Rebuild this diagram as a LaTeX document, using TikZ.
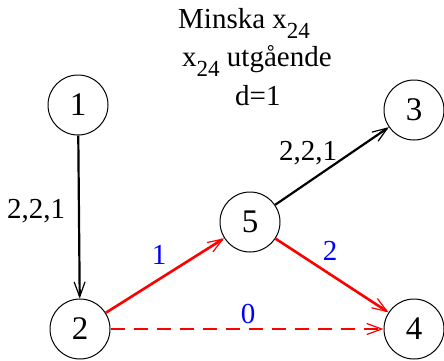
\documentclass[tikz,border=0pt]{standalone}
\usepackage{fontspec}
\setmainfont{Liberation Serif}
\usetikzlibrary{arrows.meta}
\definecolor{rod}{HTML}{FF0000}
\definecolor{bla}{HTML}{0000FF}
\newcommand{\nedsatt}[1]{\raisebox{-10pt}{\fontsize{23}{23}\selectfont #1}}
\tikzset{
  every picture/.style={x=1pt, y=-1pt},
  nod/.style={draw, circle, line width=1pt, minimum size=60pt, inner sep=0pt,
              font=\fontsize{33}{33}\selectfont},
  etikett/.style={anchor=base, inner sep=0pt, font=\fontsize{29}{29}\selectfont},
  rubrik/.style={anchor=base west, inner sep=0pt, font=\fontsize{29}{29}\selectfont},
  pilspets/.style={-{Straight Barb[length=15pt, width=11pt, line width=1.2pt]}},
  pil/.style={pilspets, line width=2.2pt},
  pilr/.style={pilspets, line width=2.6pt, draw=rod},
  pild/.style={pilspets, line width=1.4pt, draw=rod, dash pattern=on 14pt off 9pt},
}
\begin{document}
\begin{tikzpicture}
  \useasboundingbox (0,0) rectangle (444,360);
  \node[nod] (n1) at (78,105) {1};
  \node[nod] (n2) at (80,329) {2};
  \node[nod] (n3) at (414,110) {3};
  \node[nod] (n4) at (414,329) {4};
  \node[nod] (n5) at (250,222) {5};
  \draw[pil] (n1) -- (n2);
  \draw[pil] (n5) -- (n3);
  \draw[pilr] (n2) -- (n5);
  \draw[pilr] (n5) -- (n4);
  \draw[pild] (n2) -- (n4);
  \node[etikett] (l12) at (36,218) {2,2,1};
  \node[etikett] (l53) at (308,160) {2,2,1};
  \node[etikett, bla] (l25) at (159,264) {1};
  \node[etikett, bla] (l54) at (330,260) {2};
  \node[etikett, bla] (l24) at (248,323) {0};
  % rubrik
  \node[rubrik] (r1) at (178,28) {Minska x\nedsatt{24}};
  \node[rubrik] (r2) at (182,66) {x\nedsatt{24} utgående};
  \node[rubrik] (r3) at (235,105) {d=1};
\end{tikzpicture}
\end{document}
